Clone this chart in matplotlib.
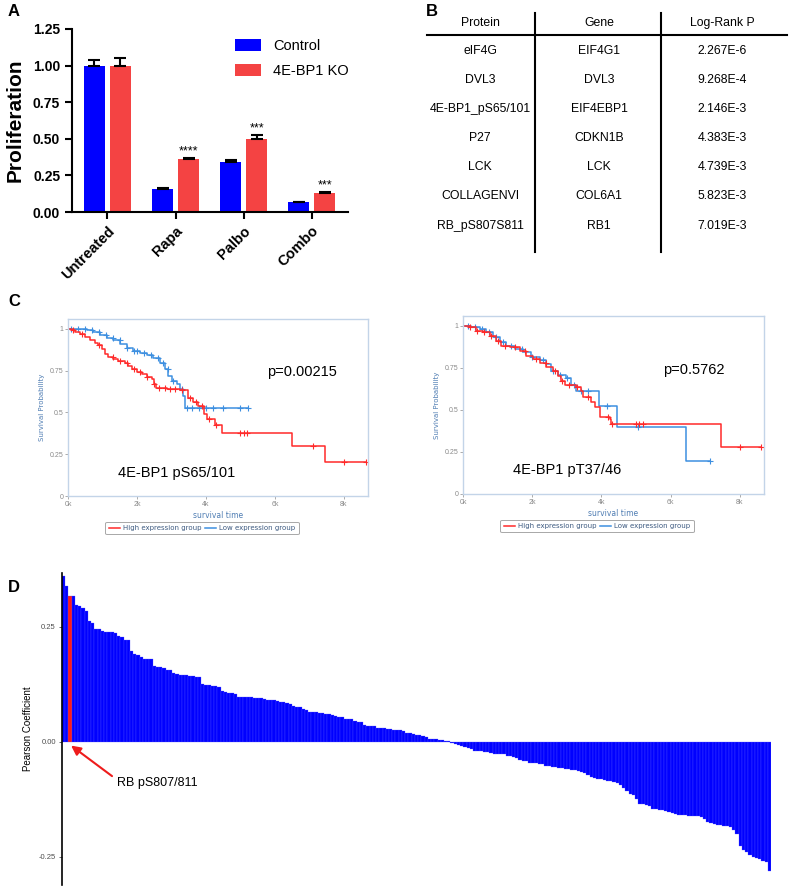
import numpy as np
import matplotlib.pyplot as plt

plt.rcParams['font.family'] = ['Liberation Sans', 'DejaVu Sans']

W, H = 791, 889

# ---- panel A: proliferation ----
groups = ['Untreated', 'Rapa', 'Palbo', 'Combo']
ctrl = [1.00, 0.16, 0.34, 0.065]
ctrl_err = [0.04, 0.006, 0.015, 0.004]
ko = [1.00, 0.36, 0.50, 0.13]
ko_err = [0.055, 0.008, 0.025, 0.01]
ko_stars = ['', '****', '***', '***']

# ---- panel B: table ----
tbl_header = ['Protein', 'Gene', 'Log-Rank P']
proteins = ['eIF4G', 'DVL3', '4E-BP1_pS65/101', 'P27', 'LCK', 'COLLAGENVI', 'RB_pS807S811']
genes = ['EIF4G1', 'DVL3', 'EIF4EBP1', 'CDKN1B', 'LCK', 'COL6A1', 'RB1']
pvals = ['2.267E-6', '9.268E-4', '2.146E-3', '4.383E-3', '4.739E-3', '5.823E-3', '7.019E-3']

# ---- panel C: Kaplan-Meier curves ----
kmL_high_t = [0, 106, 203, 348, 493, 638, 783, 879, 976, 1072, 1169, 1314, 1459, 1652, 1749, 1845,
              1990, 2135, 2280, 2425, 2493, 2541, 2860, 3246, 3469, 3633, 3778, 3942, 4020, 4261,
              4454, 6483, 7459, 8638]
kmL_high_s = [1.0, 0.992, 0.982, 0.970, 0.952, 0.932, 0.916, 0.901, 0.877, 0.851, 0.831, 0.817,
              0.807, 0.795, 0.777, 0.757, 0.744, 0.728, 0.714, 0.698, 0.668, 0.648, 0.638, 0.632,
              0.588, 0.559, 0.535, 0.489, 0.459, 0.425, 0.374, 0.300, 0.201, 0.201]
kmL_high_cens = [150, 400, 900, 1300, 1500, 1700, 1900, 2100, 2300, 2500, 2650, 2800, 2950, 3100,
                 3300, 3550, 3700, 3900, 4100, 4300, 5000, 5100, 5200, 7100, 8000, 8638]
kmL_low_t = [0, 251, 541, 734, 928, 1121, 1314, 1507, 1700, 1894, 2087, 2280, 2473, 2667, 2812,
             2908, 3005, 3150, 3246, 3324, 3401, 5227]
kmL_low_s = [1.0, 0.996, 0.990, 0.980, 0.962, 0.946, 0.930, 0.911, 0.887, 0.867, 0.857, 0.843,
             0.823, 0.797, 0.757, 0.718, 0.688, 0.668, 0.638, 0.598, 0.529, 0.529]
kmL_low_cens = [100, 300, 500, 700, 900, 1100, 1300, 1500, 1700, 1900, 2000, 2200, 2400, 2600,
                2750, 2900, 3050, 3300, 3450, 3600, 3800, 4000, 4200, 4500, 5000, 5227]

kmR_high_t = [0, 193, 386, 578, 771, 964, 1108, 1349, 1639, 1831, 2024, 2217, 2410, 2602, 2747,
              2843, 2940, 3277, 3422, 3470, 3711, 3807, 3952, 4241, 4289, 7451, 8627]
kmR_high_s = [1.0, 0.990, 0.970, 0.960, 0.941, 0.907, 0.881, 0.872, 0.852, 0.822, 0.802, 0.777,
              0.757, 0.733, 0.704, 0.674, 0.648, 0.634, 0.611, 0.575, 0.545, 0.516, 0.457, 0.447,
              0.417, 0.279, 0.279]
kmR_high_cens = [200, 400, 600, 800, 1000, 1200, 1500, 1800, 2100, 2400, 2650, 2850, 3050, 3300,
                 3600, 4200, 4300, 5000, 5100, 5200, 8000, 8627]
kmR_low_t = [0, 241, 482, 675, 868, 1060, 1253, 1494, 1735, 1976, 2217, 2410, 2554, 2747, 2988,
             3133, 3258, 3933, 4453, 6458, 7133]
kmR_low_s = [1.0, 0.994, 0.980, 0.960, 0.935, 0.901, 0.881, 0.862, 0.842, 0.812, 0.798, 0.773,
             0.729, 0.709, 0.690, 0.650, 0.615, 0.526, 0.397, 0.196, 0.196]
kmR_low_cens = [150, 350, 550, 750, 950, 1150, 1400, 1700, 2000, 2300, 2600, 2800, 3000, 3200,
                3400, 3600, 4150, 5050, 7133]

# ---- panel D: Pearson coefficients (sorted) ----
pearson = [
    0.361, 0.339, 0.318, 0.317, 0.298, 0.296, 0.291, 0.285, 0.262, 0.258,
    0.246, 0.245, 0.240, 0.239, 0.238, 0.238, 0.237, 0.231, 0.227, 0.222,
    0.221, 0.198, 0.191, 0.189, 0.184, 0.181, 0.180, 0.180, 0.164, 0.163,
    0.162, 0.161, 0.157, 0.156, 0.150, 0.147, 0.146, 0.145, 0.145, 0.144,
    0.143, 0.141, 0.140, 0.125, 0.124, 0.123, 0.121, 0.121, 0.120, 0.110,
    0.109, 0.107, 0.106, 0.105, 0.0985, 0.0985, 0.098, 0.097, 0.097, 0.096,
    0.095, 0.095, 0.094, 0.091, 0.091, 0.090, 0.089, 0.087, 0.086, 0.084,
    0.083, 0.077, 0.076, 0.075, 0.071, 0.070, 0.066, 0.066, 0.065, 0.063,
    0.062, 0.061, 0.060, 0.059, 0.056, 0.054, 0.053, 0.050, 0.050, 0.049,
    0.045, 0.044, 0.043, 0.036, 0.035, 0.035, 0.034, 0.031, 0.030, 0.030,
    0.029, 0.027, 0.026, 0.025, 0.025, 0.023, 0.020, 0.019, 0.018, 0.0145,
    0.014, 0.012, 0.011, 0.007, 0.007, 0.006, 0.005, 0.005, 0.002, 0.001,
    -0.002, -0.004, -0.007, -0.009, -0.012, -0.014, -0.016, -0.019, -0.020, -0.020,
    -0.021, -0.022, -0.024, -0.026, -0.026, -0.026, -0.027, -0.030, -0.031, -0.033,
    -0.034, -0.040, -0.041, -0.042, -0.045, -0.046, -0.046, -0.047, -0.049, -0.053,
    -0.053, -0.054, -0.055, -0.056, -0.057, -0.060, -0.060, -0.061, -0.061, -0.064,
    -0.066, -0.068, -0.071, -0.076, -0.078, -0.080, -0.080, -0.082, -0.084, -0.084,
    -0.087, -0.090, -0.094, -0.100, -0.106, -0.114, -0.116, -0.124, -0.135, -0.136,
    -0.138, -0.140, -0.145, -0.146, -0.149, -0.149, -0.150, -0.153, -0.154, -0.157,
    -0.158, -0.159, -0.159, -0.160, -0.160, -0.160, -0.161, -0.163, -0.167, -0.174,
    -0.176, -0.178, -0.180, -0.181, -0.182, -0.183, -0.186, -0.191, -0.201, -0.227,
    -0.236, -0.239, -0.246, -0.250, -0.252, -0.255, -0.258, -0.261, -0.281]
highlight = 2  # RB pS807/811


def add_px_axes(l, t, r, b):
    return fig.add_axes([l / W, 1 - b / H, (r - l) / W, (b - t) / H])


fig = plt.figure(figsize=(W / 100, H / 100), dpi=100)

# ================= A =================
axA = add_px_axes(72, 29, 348, 212)
x = np.arange(len(groups))
blue = '#0000ff'
red = '#f44343'
axA.bar(x - 0.19, ctrl, 0.31, color=blue, label='Control')
axA.bar(x + 0.19, ko, 0.31, color=red, label='4E-BP1 KO')
axA.errorbar(x - 0.19, ctrl, yerr=[np.zeros(len(ctrl)), ctrl_err], fmt='none',
             ecolor='black', elinewidth=1.5, capsize=4, capthick=1.5)
axA.errorbar(x + 0.19, ko, yerr=[np.zeros(len(ko)), ko_err], fmt='none',
             ecolor='black', elinewidth=1.5, capsize=4, capthick=1.5)
for xi, v, e, s in zip(x, ko, ko_err, ko_stars):
    if s:
        axA.text(xi + 0.19, v + e + 0.002, s, ha='center', va='bottom', fontsize=9)
axA.set_xlim(-0.52, 3.53)
axA.set_ylim(0, 1.25)
axA.set_yticks([0, 0.25, 0.5, 0.75, 1.0, 1.25])
axA.set_yticklabels(['0.00', '0.25', '0.50', '0.75', '1.00', '1.25'], fontweight='bold', fontsize=10)
axA.set_xticks(x)
axA.set_xticklabels(groups, rotation=45, ha='right', rotation_mode='anchor',
                    fontweight='bold', fontsize=10.5)
axA.set_ylabel('Proliferation', fontweight='bold', fontsize=15, labelpad=6)
for sp in ['top', 'right']:
    axA.spines[sp].set_visible(False)
for sp in ['left', 'bottom']:
    axA.spines[sp].set_linewidth(1.5)
axA.tick_params(width=1.5, length=5)
axA.legend(loc='upper left', bbox_to_anchor=(222 / W, 1 - 26 / H), bbox_transform=fig.transFigure,
           frameon=False, fontsize=10.5, handlelength=1.8, handleheight=0.9, labelspacing=0.75)

# ================= overlay (panel labels + table B) =================
ov = fig.add_axes([0, 0, 1, 1])
ov.set_xlim(0, W)
ov.set_ylim(H, 0)
ov.axis('off')
for lab, lx, ly in [('A', 8, 12), ('B', 426, 12), ('C', 8, 302), ('D', 8, 587)]:
    ov.text(lx, ly, lab, fontsize=12, fontweight='bold', va='center', ha='left')

col_x = [480, 599, 722]
row_y = [51, 80, 109, 138, 167, 196, 226]
for cx, h in zip(col_x, tbl_header):
    ov.text(cx, 23, h, ha='center', va='center', fontsize=8.8)
ov.plot([427, 787], [35, 35], color='black', lw=1.5)
ov.plot([535, 535], [13, 252], color='black', lw=1.5)
ov.plot([661, 661], [13, 252], color='black', lw=1.5)
for ry, p, g, pv in zip(row_y, proteins, genes, pvals):
    ov.text(col_x[0], ry, p, ha='center', va='center', fontsize=8.8)
    ov.text(col_x[1], ry, g, ha='center', va='center', fontsize=8.8)
    ov.text(col_x[2], ry, pv, ha='center', va='center', fontsize=8.8)

# ================= C =================
km_red = '#ff2a2a'
km_blue = '#3d8fe0'
frame = '#c3d4e8'
lab_col = '#4f7db3'


def km_panel(box, high_t, high_s, high_cens, low_t, low_s, low_cens, ptxt, name, leg_xy):
    ax = add_px_axes(*box)
    for t, s, cens, c, lbl in [(low_t, low_s, low_cens, km_blue, 'Low expression group'),
                               (high_t, high_s, high_cens, km_red, 'High expression group')]:
        ax.step(t, s, where='post', color=c, lw=1.1, label=lbl)
        ta = np.array(t)
        sa = np.array(s)
        idx = np.searchsorted(ta, cens, side='right') - 1
        ax.plot(cens, sa[idx], '+', color=c, ms=4, mew=0.8)
    ax.set_xlim(0, 8700)
    ax.set_ylim(0, 1.058)
    ax.set_xticks([0, 2000, 4000, 6000, 8000])
    ax.set_xticklabels(['0k', '2k', '4k', '6k', '8k'])
    ax.set_yticks([0, 0.25, 0.5, 0.75, 1])
    ax.set_yticklabels(['0', '0.25', '0.5', '0.75', '1'])
    ax.tick_params(labelsize=5, colors='#8a8a8a', length=2, width=0.5, pad=1.5)
    for sp in ax.spines.values():
        sp.set_color(frame)
        sp.set_linewidth(1.0)
    ax.set_ylabel('Survival Probability', fontsize=5, color=lab_col, labelpad=3,
                  family='DejaVu Sans')
    ax.set_xlabel('survival time', fontsize=5.5, color=lab_col, labelpad=2,
                  family='DejaVu Sans')
    ax.text(5770, 0.74, ptxt, fontsize=10.5, va='center', ha='left')
    ax.text(1450, 0.14, name, fontsize=10.5, va='center', ha='left')
    h, l = ax.get_legend_handles_labels()
    leg = ax.legend(h[::-1], l[::-1], loc='center', ncol=2,
                    bbox_to_anchor=(leg_xy[0] / W, 1 - leg_xy[1] / H), bbox_transform=fig.transFigure,
                    fontsize=5, handlelength=1.6, columnspacing=0.6, handletextpad=0.4,
                    borderpad=0.5, fancybox=True, framealpha=1)
    leg.get_frame().set_edgecolor('#a8a8a8')
    leg.get_frame().set_linewidth(0.7)
    for tx in leg.get_texts():
        tx.set_color('#3d5a80')
        tx.set_family('DejaVu Sans')
    return ax


km_panel((68, 319, 368, 496), kmL_high_t, kmL_high_s, kmL_high_cens,
         kmL_low_t, kmL_low_s, kmL_low_cens, 'p=0.00215', '4E-BP1 pS65/101', (202, 528))
km_panel((463, 316, 764, 494), kmR_high_t, kmR_high_s, kmR_high_cens,
         kmR_low_t, kmR_low_s, kmR_low_cens, 'p=0.5762', '4E-BP1 pT37/46', (597, 526))

# ================= D =================
axD = add_px_axes(62, 573, 771, 885)
n = len(pearson)
cols = ['#ff1a1a' if i == highlight else blue for i in range(n)]
axD.bar(np.arange(n), pearson, width=1.0, color=cols, edgecolor='#5a5aff', linewidth=0.2)
axD.set_xlim(-0.5, n - 0.5)
axD.set_ylim(-0.311, 0.367)
axD.set_xticks([])
axD.set_yticks([-0.25, 0, 0.25])
axD.set_yticklabels(['-0.25', '0.00', '0.25'])
axD.tick_params(axis='y', labelsize=5.5, colors='#4d4d4d', length=2.5, width=0.6, pad=2)
for sp in ['top', 'right', 'bottom']:
    axD.spines[sp].set_visible(False)
axD.spines['left'].set_linewidth(1.2)
axD.set_ylabel('Pearson Coefficient', fontsize=7, labelpad=4)
axD.annotate('RB pS807/811', xy=(highlight + 0.3, -0.008), xytext=(16.5, -0.089),
             fontsize=9, ha='left', va='center',
             arrowprops=dict(arrowstyle='-|>', color='#ee1c1c', lw=1.5, mutation_scale=14,
                             shrinkA=2, shrinkB=0, relpos=(0, 0.75)))

fig.savefig('out.png', dpi=100)
